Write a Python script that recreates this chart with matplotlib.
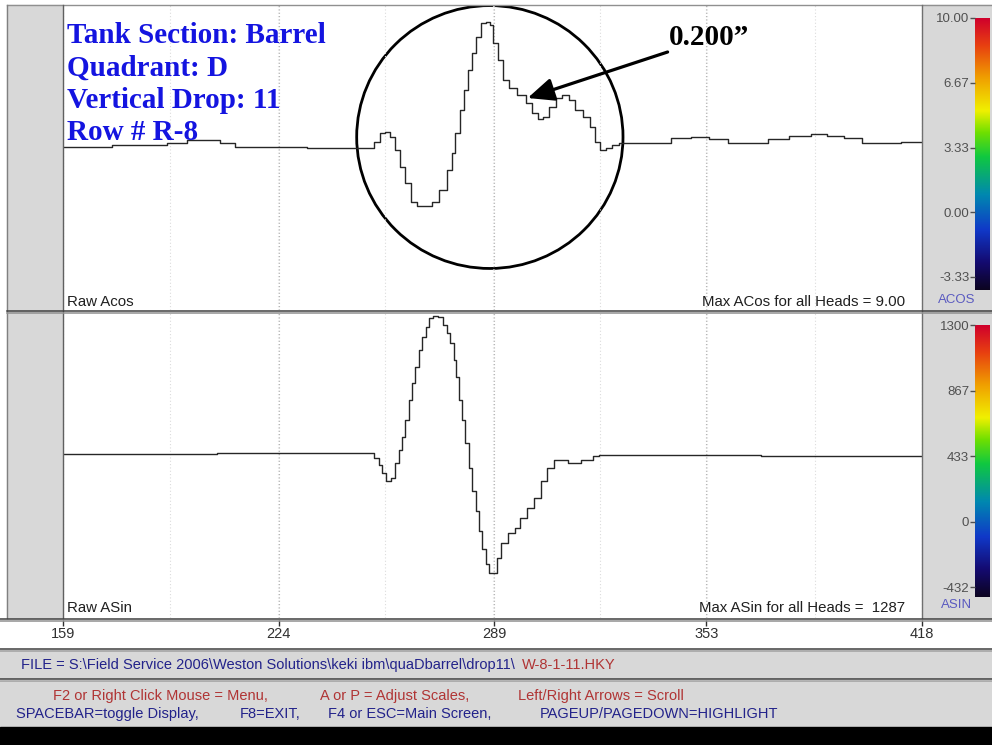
import numpy as np
import matplotlib
matplotlib.use("Agg")
import matplotlib.pyplot as plt
from matplotlib.colors import LinearSegmentedColormap
from matplotlib.patches import Rectangle, Ellipse

W, H = 992, 745

# scan position vs raw ACOS
acos_x = [159.0, 188.3, 192.2, 200.4, 204.3, 208.5, 213.3, 251.7, 253.8, 255.6,
          256.8, 258.3, 259.8, 261.3, 263.1, 264.6, 266.8, 269.2, 271.3, 273.7,
          275.8, 276.7, 277.9, 279.4, 280.3, 281.8, 282.8, 284.3, 285.8, 287.0,
          288.2, 289.4, 290.9, 292.4, 294.5, 297.5, 299.4, 301.5, 303.0, 304.5,
          306.6, 308.4, 310.5, 312.6, 314.4, 317.2, 318.7, 320.2, 321.7, 323.5,
          325.6, 327.7, 339.2, 345.2, 351.3, 356.4, 362.4, 368.5, 374.5, 381.5,
          387.5, 391.4, 397.5, 402.6, 407.7, 415.6, 418.0]
acos_y = [3.33, 3.44, 3.54, 3.69, 3.69, 3.54, 3.33, 3.28, 3.59, 4.05,
          4.10, 3.85, 3.18, 2.31, 1.49, 0.51, 0.31, 0.31, 0.51, 1.13,
          2.16, 3.03, 4.05, 5.23, 6.26, 7.28, 8.15, 8.97, 9.69, 9.74,
          9.59, 8.67, 7.80, 6.77, 6.36, 6.00, 5.59, 5.08, 4.77, 4.87,
          5.39, 5.85, 6.00, 5.74, 5.23, 4.87, 4.36, 3.59, 3.18, 3.28,
          3.44, 3.54, 3.54, 3.80, 3.85, 3.74, 3.54, 3.54, 3.74, 3.90,
          4.00, 3.90, 3.80, 3.54, 3.54, 3.59, 3.59]

# scan position vs raw ASIN
asin_x = [159.0, 251.7, 253.8, 254.7, 255.6, 257.1, 258.6, 259.8, 260.7, 261.6,
          262.8, 263.7, 264.6, 265.9, 266.8, 267.7, 268.9, 269.8, 271.3, 272.8,
          274.3, 275.2, 276.4, 277.3, 277.9, 278.8, 279.7, 280.9, 281.8, 282.8,
          284.0, 284.9, 285.8, 287.0, 287.6, 289.4, 290.3, 291.8, 294.5, 296.0,
          297.8, 300.0, 302.1, 303.9, 306.0, 308.1, 309.9, 312.9, 317.2, 320.2,
          321.1, 418.0]
asin_y = [447, 454, 427, 375, 322, 275, 289, 388, 474, 560,
          672, 804, 917, 1022, 1135, 1221, 1287, 1346, 1359, 1353,
          1300, 1247, 1181, 1069, 956, 804, 672, 520, 361, 209,
          77, -55, -174, -273, -333, -333, -234, -134, -68, -35,
          31, 97, 163, 275, 361, 408, 414, 394, 408, 434,
          441, 434]

x_ticks = [159, 224, 289, 353, 418]
x_labels = ["159", "224", "289", "353", "418"]
acos_scale = [10.00, 6.67, 3.33, 0.00, -3.33]
acos_labels = ["10.00", "6.67", "3.33", "0.00", "-3.33"]
asin_scale = [1300, 867, 433, 0, -432]
asin_labels = ["1300", "867", "433", "0", "-432"]
header = ["Tank Section: Barrel", "Quadrant: D", "Vertical Drop: 11", "Row # R-8"]

GRAY = "#d8d8d8"
SANS = "Liberation Sans"


def box(x0, y0, x1, y1):
    return [x0 / W, 1 - y1 / H, (x1 - x0) / W, (y1 - y0) / H]


cmap = LinearSegmentedColormap.from_list("scale", [
    (0.00, "#0c0420"), (0.10, "#140a70"), (0.22, "#1038c8"), (0.35, "#0088b0"),
    (0.49, "#10c840"), (0.58, "#70e000"), (0.66, "#f0f000"), (0.78, "#f0a000"),
    (0.90, "#e84010"), (1.00, "#d0002c")])

fig = plt.figure(figsize=(W / 100, H / 100), dpi=100)
fig.patch.set_facecolor("white")

# window chrome in pixel coordinates
bg = fig.add_axes([0, 0, 1, 1], zorder=-5)
bg.set_xlim(0, W)
bg.set_ylim(H, 0)
bg.axis("off")
bg.add_patch(Rectangle((7, 5), 56, 613, color=GRAY))
bg.add_patch(Rectangle((922, 5), 70, 613, color=GRAY))
bg.add_patch(Rectangle((0, 650), W, 28, color=GRAY))
bg.add_patch(Rectangle((0, 681), W, 46, color=GRAY))
bg.add_patch(Rectangle((0, 727), W, 18, color="black"))

# lines are drawn on an overlay so they sit above the plot panels
fg = fig.add_axes([0, 0, 1, 1], zorder=5)
fg.set_xlim(0, W)
fg.set_ylim(H, 0)
fg.axis("off")
fg.plot([7, W], [5, 5], color="#909090", lw=1)
fg.plot([7, 7], [5, 618], color="#808080", lw=1)
fg.plot([63, 63], [5, 618], color="#606060", lw=1)
fg.plot([922, 922], [5, 618], color="#707070", lw=1)
for yy, c in [(310.5, "#404040"), (312.5, "#909090"), (618.5, "#404040"),
              (620.5, "#909090"), (648.5, "#404040"), (650.5, "#a0a0a0"),
              (678.5, "#404040"), (680.5, "#a0a0a0")]:
    x0 = 7 if yy < 615 else 0
    fg.plot([x0, W], [yy, yy], color=c, lw=1.1)

panels = [
    (box(63, 5, 922, 310), acos_x, acos_y, (-5.02, 10.62), "Raw Acos",
     "Max ACos for all Heads = 9.00", 0.013),
    (box(63, 313, 922, 618), asin_x, asin_y, (-630, 1379), "Raw ASin",
     "Max ASin for all Heads =  1287", 0.02),
]
axes = []
for rect, xs, ys, ylim, name, maxtxt, yb in panels:
    ax = fig.add_axes(rect)
    ax.set_xlim(159, 418)
    ax.set_ylim(*ylim)
    ax.set_xticks(x_ticks)
    ax.set_xticks(np.linspace(159, 418, 9), minor=True)
    ax.grid(True, axis="x", which="major", linestyle=(0, (1, 2)), color="#b0b0b0", lw=0.8)
    ax.grid(True, axis="x", which="minor", linestyle=(0, (1, 2)), color="#dcdcdc", lw=0.8)
    ax.tick_params(which="both", length=0, labelbottom=False, labelleft=False)
    ax.set_yticks([])
    for s in ax.spines.values():
        s.set_visible(False)
    ax.plot(xs, ys, color="#262626", lw=1.0, drawstyle="steps-mid")
    ax.text(0.005, yb, name, transform=ax.transAxes, fontsize=10.8, family=SANS,
            color="#202020", va="baseline")
    ax.text(0.98, yb, maxtxt, transform=ax.transAxes, fontsize=10.8, family=SANS,
            color="#202020", va="baseline", ha="right")
    axes.append(ax)

ax_top = axes[0]
for i, line in enumerate(header):
    yb = (310 - (43 + i * 32.4)) / 305
    ax_top.text(0.005, yb, line, transform=ax_top.transAxes, fontsize=21,
                family="Liberation Serif", weight="bold", color="#1414e0", va="baseline")

# circled defect and callout
ax_top.add_patch(Ellipse((287.7, 3.85), 80.3, 13.48, fill=False, ec="black", lw=2.0))
ax_top.annotate("", xy=(299.1, 5.85), xytext=(341.3, 8.21),
                arrowprops=dict(arrowstyle="-|>,head_length=0.8,head_width=0.35",
                                lw=2.3, color="black", mutation_scale=20,
                                shrinkA=0, shrinkB=0))
ax_top.text(341.6, 8.56, "0.200\u201d", fontsize=21, family="Liberation Serif",
            weight="bold", color="black", va="baseline")

# colour scales on the right
for rect, ticks, labels, ylim, tag, ty in [
        (box(975, 18, 989, 290), acos_scale, acos_labels, (-4.0, 10.0), "ACOS", 300),
        (box(975, 325, 989, 597), asin_scale, asin_labels, (-498, 1300), "ASIN", 605)]:
    cb = fig.add_axes(rect)
    cb.imshow(np.linspace(0, 1, 256)[:, None], extent=[0, 1, ylim[0], ylim[1]],
              origin="lower", aspect="auto", cmap=cmap)
    cb.set_ylim(*ylim)
    cb.set_xticks([])
    cb.set_yticks(ticks)
    cb.set_yticklabels(labels)
    cb.tick_params(axis="y", direction="out", length=3.6, width=1, colors="#505050",
                   labelsize=9.5, pad=0.5)
    for lab in cb.get_yticklabels():
        lab.set_family(SANS)
    for s in cb.spines.values():
        s.set_visible(False)
    bg.text(957, ty, tag, ha="center", va="center", fontsize=9.5, family=SANS,
            color="#5a5ac0")

# scan position axis strip
xa = fig.add_axes(box(63, 620, 922, 648), zorder=2)
xa.set_xlim(159, 418)
xa.set_yticks([])
xa.set_xticks(x_ticks)
xa.set_xticklabels(x_labels)
xa.tick_params(axis="x", top=True, bottom=False, direction="in", length=4.3, width=1,
               color="#303030", labelbottom=True, labeltop=False, pad=-15,
               labelsize=10.5, labelcolor="#303030")
for lab in xa.get_xticklabels():
    lab.set_family(SANS)
for s in xa.spines.values():
    s.set_visible(False)
xa.patch.set_alpha(0)

# status lines
navy = "#22228a"
red = "#b03434"
FS = 10.5
bg.text(21, 669, "FILE = S:\\Field Service 2006\\Weston Solutions\\keki ibm\\quaDbarrel\\drop11\\",
        fontsize=FS, family=SANS, color=navy, va="baseline")
bg.text(522, 669, "W-8-1-11.HKY", fontsize=FS, family=SANS, color=red, va="baseline")
for x, s in [(53, "F2 or Right Click Mouse = Menu,"), (320, "A or P = Adjust Scales,"),
             (518, "Left/Right Arrows = Scroll")]:
    bg.text(x, 700, s, fontsize=FS, family=SANS, color=red, va="baseline")
for x, s in [(16, "SPACEBAR=toggle Display,"), (240, "F8=EXIT,"),
             (328, "F4 or ESC=Main Screen,"), (540, "PAGEUP/PAGEDOWN=HIGHLIGHT")]:
    bg.text(x, 718, s, fontsize=FS, family=SANS, color=navy, va="baseline")

fig.savefig("out.png", dpi=100)
